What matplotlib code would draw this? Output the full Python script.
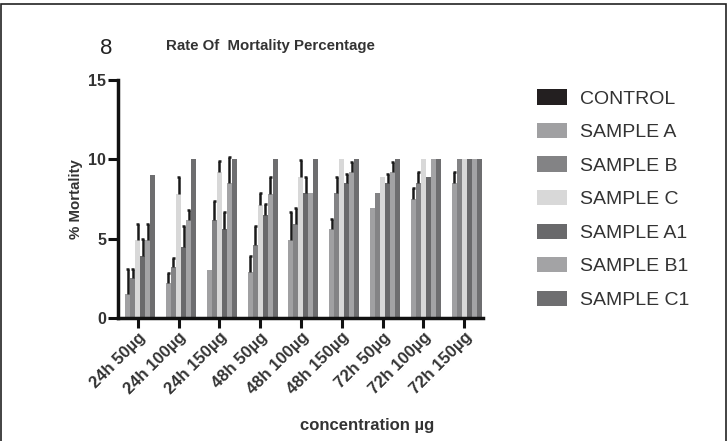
import numpy as np
import matplotlib
matplotlib.use('Agg')
from matplotlib import pyplot as plt
from matplotlib.patches import Patch, Rectangle

plt.rcParams['font.family'] = ['Liberation Sans', 'DejaVu Sans']

groups = ['24h 50µg', '24h 100µg', '24h 150µg', '48h 50µg', '48h 100µg',
          '48h 150µg', '72h 50µg', '72h 100µg', '72h 150µg']
series = ['CONTROL', 'SAMPLE A', 'SAMPLE B', 'SAMPLE C',
          'SAMPLE A1', 'SAMPLE B1', 'SAMPLE C1']
colors = ['#231f20', '#a0a0a2', '#838385', '#d8d8d8',
          '#69696b', '#a3a3a5', '#6e6e70']

control = [0, 0, 0, 0, 0, 0, 0, 0, 0]
sample_a = [1.5, 2.2, 3.0, 2.9, 4.9, 5.6, 6.9, 7.5, 8.5]
sample_b = [2.5, 3.2, 6.2, 4.6, 5.9, 7.9, 7.9, 8.5, 10]
sample_c = [4.9, 7.8, 9.2, 7.1, 8.9, 10, 8.9, 10, 10]
sample_a1 = [3.9, 4.5, 5.6, 6.5, 7.9, 8.5, 8.5, 8.9, 10]
sample_b1 = [4.9, 6.2, 8.5, 7.8, 7.9, 9.2, 9.2, 10, 10]
sample_c1 = [9, 10, 10, 10, 10, 10, 10, 10, 10]

err_control = [0, 0, 0, 0, 0, 0, 0, 0, 0]
err_a = [1.6, 0.65, 0, 1.0, 1.8, 0.65, 0, 0.7, 0.7]
err_b = [0.6, 0.6, 1.2, 1.2, 1.05, 1.0, 0, 0.7, 0]
err_c = [1.0, 1.1, 0.7, 0.8, 1.05, 0, 0, 0, 0]
err_a1 = [1.05, 1.3, 1.1, 0.7, 1.0, 0.6, 0.6, 0, 0]
err_b1 = [1.0, 0.6, 1.65, 1.1, 0, 0.6, 0.6, 0, 0]
err_c1 = [0, 0, 0, 0, 0, 0, 0, 0, 0]

values = [control, sample_a, sample_b, sample_c, sample_a1, sample_b1, sample_c1]
errors = [err_control, err_a, err_b, err_c, err_a1, err_b1, err_c1]

fig = plt.figure(figsize=(7.27, 4.41), dpi=100)
ax = fig.add_axes([0.1623, 0.279, 0.502, 0.5397])

x = np.arange(len(groups))
n = len(series)
w = 0.86 / n
for i in range(n):
    pos = x + (i - (n - 1) / 2) * w
    v = np.array(values[i], dtype=float)
    e = np.array(errors[i], dtype=float)
    ax.bar(pos, v, width=w, color=colors[i], linewidth=0, zorder=2)
    m = e > 0
    if m.any():
        # upper-only error bars with a cap on top
        ax.vlines(pos[m], v[m], v[m] + e[m], color='#1a1a1a', linewidth=1.8, zorder=3)
        ax.hlines(v[m] + e[m], pos[m] - w * 0.3, pos[m] + w * 0.3,
                  color='#1a1a1a', linewidth=1.8, zorder=3)

ax.set_xlim(-0.483, 8.46)
ax.set_ylim(0, 15)
ax.set_yticks([0, 5, 10, 15])
ax.set_xticks(x)
ax.set_xticklabels(groups, rotation=45, ha='right', rotation_mode='anchor',
                   fontsize=12, fontweight='bold', color='#333333')
for lab in ax.get_yticklabels():
    lab.set_fontweight('bold')
    lab.set_fontsize(11.5)
    lab.set_color('#333333')
ax.tick_params(axis='both', length=7.5, width=2.2, direction='out', color='#111111')
ax.tick_params(axis='x', pad=1)
ax.tick_params(axis='y', pad=1)
for s in ['top', 'right']:
    ax.spines[s].set_visible(False)
for s in ['left', 'bottom']:
    ax.spines[s].set_linewidth(2.5)
    ax.spines[s].set_color('#111111')

ax.set_ylabel('% Mortality', fontsize=10.8, fontweight='bold', color='#333333', labelpad=4)
fig.text(0.505, 0.035, 'concentration µg', fontsize=12, fontweight='bold',
         color='#333333', ha='center', va='center')
fig.text(0.372, 0.895, 'Rate Of  Mortality Percentage', fontsize=10.8,
         fontweight='bold', color='#333333', ha='center', va='center')
fig.text(0.146, 0.89, '8', fontsize=16, color='#222222', ha='center', va='center')

handles = [Patch(facecolor=c, edgecolor='none') for c in colors]
fig.legend(handles, series, loc='upper left', bbox_to_anchor=(0.715, 0.837),
           frameon=False, fontsize=14, handlelength=1.55, handleheight=0.83,
           labelspacing=0.78, handletextpad=0.65, labelcolor='#333333')

fig.patches.append(Rectangle((0.001, -0.01), 0.997, 1.0, transform=fig.transFigure,
                             fill=False, edgecolor='#222222', linewidth=1.2))

fig.savefig('out.png', dpi=100)
